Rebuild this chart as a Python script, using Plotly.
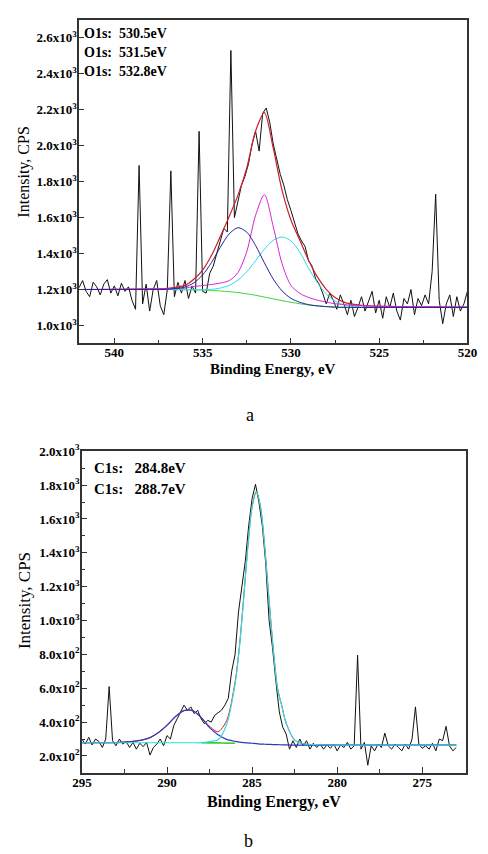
import plotly.graph_objects as go

SERIF = "Liberation Serif, Times New Roman, serif"
W, H = 488, 854

# ---------------- (a) O1s spectrum ----------------
O1S_START = 542.0
O1S_STEP = 0.2
O1S_COUNTS = [
    1210, 1250, 1190, 1160, 1240, 1215, 1170, 1230, 1255, 1180,
    1220, 1165, 1235, 1190, 1215, 1140, 1090, 1890, 1120, 1230,
    1080, 1200, 1250, 1110, 1060, 1200, 1860, 1160, 1240, 1180,
    1250, 1150, 1220, 1180, 2080, 1190, 1180, 1290, 1330, 1400,
    1470, 1540, 1520, 2530, 1600, 1700, 1780, 1830, 1900, 2010,
    2080, 1970, 2180, 2210, 2130, 2010, 1930, 1840, 1780, 1700,
    1640, 1570, 1510, 1470, 1440, 1360, 1330, 1260, 1230, 1180,
    1120, 1180, 1140, 1090, 1170, 1120, 1060, 1140, 1050, 1100,
    1160, 1080, 1130, 1190, 1070, 1140, 1040, 1160, 1100, 1180,
    1080, 1030, 1150, 1120, 1200, 1060, 1150, 1110, 1170, 1120,
    1300, 1730, 1140, 1010, 1120, 1170, 1050, 1160, 1080, 1120,
    1190,
]
O1S_FIT_E = [542, 540, 538, 537, 536, 535.5, 535, 534.5, 534, 533.5, 533, 532.5,
             532, 531.5, 531, 530.5, 530, 529.5, 529, 528.5, 528, 527.5, 527,
             526, 524, 522, 520]
O1S_BACKGROUND = [1200, 1200, 1200, 1200, 1199, 1198, 1197, 1195, 1192, 1188, 1183, 1176,
                  1168, 1158, 1148, 1138, 1129, 1121, 1114, 1109, 1105, 1102, 1101,
                  1100, 1100, 1100, 1100]
O1S_PEAK_5328 = [1200, 1200, 1200, 1201, 1214, 1237, 1281, 1350, 1435, 1509, 1544, 1519,
                 1445, 1348, 1258, 1192, 1151, 1129, 1116, 1109, 1105, 1102, 1101,
                 1100, 1100, 1100, 1100]
O1S_PEAK_5315 = [1200, 1201, 1203, 1205, 1208, 1217, 1222, 1228, 1236, 1249, 1294, 1411,
                 1613, 1728, 1550, 1343, 1223, 1179, 1156, 1141, 1130, 1121, 1116,
                 1110, 1105, 1103, 1102]
O1S_PEAK_5305 = [1200, 1200, 1200, 1200, 1199, 1199, 1199, 1201, 1208, 1223, 1253, 1299,
                 1360, 1424, 1474, 1492, 1471, 1409, 1319, 1238, 1176, 1136, 1115,
                 1102, 1100, 1100, 1100]
O1S_ENVELOPE = [1200, 1201, 1203, 1206, 1223, 1257, 1308, 1389, 1495, 1605, 1725, 1877,
                2082, 2184, 1986, 1751, 1587, 1475, 1363, 1270, 1201, 1155, 1130,
                1112, 1105, 1103, 1102]
O1S_LABELS = ["O1s:\u00a0\u00a0530.5eV", "O1s:\u00a0\u00a0531.5eV", "O1s:\u00a0\u00a0532.8eV"]
O1S_XTICKS = [540, 535, 530, 525, 520]
O1S_XMINOR = [537.5, 532.5, 527.5, 522.5]
O1S_YTICKS = [1000, 1200, 1400, 1600, 1800, 2000, 2200, 2400, 2600]
O1S_YTEXT = ["1.0", "1.2", "1.4", "1.6", "1.8", "2.0", "2.2", "2.4", "2.6"]

# ---------------- (b) C1s spectrum ----------------
C1S_START = 295.0
C1S_STEP = 0.2
C1S_COUNTS = [
    300, 270, 310, 265, 300, 285, 250, 300, 610, 290,
    260, 300, 270, 285, 250, 280, 240, 275, 255, 280,
    205, 250, 270, 300, 260, 320, 300, 380, 420, 460,
    500, 470, 490, 450, 470, 420, 390, 410, 400, 440,
    455, 470, 500, 540, 700, 800, 1050, 1190, 1350, 1560,
    1720, 1805, 1700, 1560, 1340, 1000, 840, 640, 460, 370,
    330, 240, 290, 250, 300, 260, 290, 240, 275, 250,
    270, 240, 265, 245, 270, 230, 265, 250, 280, 240,
    260, 795, 240, 280, 145, 260, 230, 270, 250, 335,
    260, 240, 270, 250, 230, 270, 240, 300, 490, 270,
    245, 260, 240, 275, 230, 300, 290, 375, 260, 230,
    250,
]
C1S_FIT_E = [295, 294, 293, 292, 291.5, 291, 290.5, 290, 289.5, 289, 288.5, 288,
             287.5, 287, 286.5, 286, 285.75, 285.5, 285.25, 285, 284.75, 284.5,
             284.25, 284, 283.75, 283.5, 283.25, 283, 282.5, 282, 281, 280, 278,
             276, 274, 273]
C1S_BACKGROUND = [278, 278, 278, 278, 278, 278, 278, 278, 278, 278, 278, 278,
                  277, 277, 276, 275, 274, 273, 272, 271, 270, 268,
                  267, 266, 265, 265, 264, 264, 264, 264, 264, 264, 264,
                  264, 264, 264]
C1S_PEAK_2887 = [278, 278, 279, 286, 293, 308, 338, 381, 433, 468, 468, 428,
                 367, 325, 298, 286, 282, 279, 277, 275, 273, 270,
                 269, 268, 267, 267, 265, 265, 264, 264, 264, 264, 264,
                 264, 264, 264]
C1S_PEAK_2848 = [278, 278, 278, 278, 278, 278, 278, 278, 278, 278, 278, 278,
                 285, 295, 386, 625, 834, 1122, 1432, 1670, 1760, 1667,
                 1427, 1115, 825, 595, 494, 394, 294, 272, 266, 264, 264,
                 264, 264, 264]
C1S_ENVELOPE = [278, 278, 279, 286, 293, 308, 338, 381, 433, 468, 468, 428,
                375, 343, 408, 636, 842, 1128, 1437, 1674, 1763, 1669,
                1429, 1117, 827, 597, 495, 395, 294, 272, 266, 264, 264,
                264, 264, 264]
C1S_LABELS = ["C1s:\u00a0\u00a0\u00a0284.8eV", "C1s:\u00a0\u00a0\u00a0288.7eV"]
C1S_XTICKS = [295, 290, 285, 280, 275]
C1S_XMINOR = [292.5, 287.5, 282.5, 277.5]
C1S_YTICKS = [200, 400, 600, 800, 1000, 1200, 1400, 1600, 1800, 2000]
C1S_YTEXT = ["2.0", "4.0", "6.0", "8.0", "1.0", "1.2", "1.4", "1.6", "1.8", "2.0"]
C1S_YEXP = ["2", "2", "2", "2", "3", "3", "3", "3", "3", "3"]
C1S_YMINOR = [300, 500, 700, 900, 1100, 1300, 1500, 1700, 1900]

COL_DATA = "#111111"
COL_RED = "#cc1f2a"
COL_BLUE = "#23239e"
COL_MAG = "#d523d5"
COL_CYAN = "#2fdbe2"
COL_GREEN = "#36d236"

o1s_E = [round(O1S_START - O1S_STEP * i, 2) for i in range(len(O1S_COUNTS))]
c1s_E = [round(C1S_START - C1S_STEP * i, 2) for i in range(len(C1S_COUNTS))]

fig = go.Figure()


def line(x, y, color, xa, ya, width=1.0, spline=True):
    fig.add_trace(go.Scatter(
        x=x, y=y, mode="lines", xaxis=xa, yaxis=ya, showlegend=False,
        hoverinfo="skip",
        line=dict(color=color, width=width,
                  shape="spline" if spline else "linear", smoothing=0.8)))


# (a)
line(o1s_E, O1S_COUNTS, COL_DATA, "x", "y", 1.0, False)
line(O1S_FIT_E, O1S_BACKGROUND, COL_GREEN, "x", "y")
line(O1S_FIT_E, O1S_ENVELOPE, COL_RED, "x", "y", 1.2)
line(O1S_FIT_E, O1S_PEAK_5305, COL_CYAN, "x", "y")
line(O1S_FIT_E, O1S_PEAK_5315, COL_MAG, "x", "y")
line(O1S_FIT_E, O1S_PEAK_5328, COL_BLUE, "x", "y")

# (b)
line(c1s_E, C1S_COUNTS, COL_DATA, "x2", "y2", 1.0, False)
g_e = [e for e in C1S_FIT_E if 286 <= e <= 288]
g_v = [v for e, v in zip(C1S_FIT_E, C1S_BACKGROUND) if 286 <= e <= 288]
line(g_e, g_v, COL_GREEN, "x2", "y2", 1.6)
line(C1S_FIT_E, C1S_ENVELOPE, COL_RED, "x2", "y2")
line(C1S_FIT_E, C1S_PEAK_2887, "#3535b5", "x2", "y2", 1.2)
line(C1S_FIT_E, C1S_PEAK_2848, COL_CYAN, "x2", "y2", 1.2)


def xdom(l, r):
    return [l / W, r / W]


def ydom(t, b):
    return [1 - b / H, 1 - t / H]


tickfont = dict(family=SERIF, size=13, color="black", weight="bold")
ytickfont = dict(family=SERIF, size=13, color="black", weight="bold")
axis_common = dict(showline=True, mirror=True, linecolor="#333333", linewidth=1.5,
                   ticks="inside", tickcolor="#333333", tickwidth=1.2,
                   showgrid=False, zeroline=False, fixedrange=True)

fig.update_layout(
    width=W, height=H, margin=dict(l=0, r=0, t=0, b=0),
    paper_bgcolor="white", plot_bgcolor="white",
    xaxis=dict(domain=xdom(72, 477), range=[542, 520], anchor="y",
               tickvals=O1S_XTICKS, ticktext=[str(v) for v in O1S_XTICKS],
               ticklen=6, tickfont=tickfont, ticklabelstandoff=-4,
               minor=dict(tickvals=O1S_XMINOR, ticks="inside", ticklen=4,
                          tickcolor="#333333"),
               **axis_common),
    yaxis=dict(domain=ydom(11, 338), range=[900, 2700], anchor="x",
               tickvals=O1S_YTICKS,
               ticktext=[f"{t}x10<sup>3</sup>" for t in O1S_YTEXT],
               ticklen=5, tickfont=ytickfont, ticklabelstandoff=-2,
               **axis_common),
    xaxis2=dict(domain=xdom(75, 476), range=[295, 272.4], anchor="y2",
                tickvals=C1S_XTICKS, ticktext=[str(v) for v in C1S_XTICKS],
                ticklen=6, tickfont=tickfont, ticklabelstandoff=-3,
                minor=dict(tickvals=C1S_XMINOR, ticks="inside", ticklen=4,
                           tickcolor="#333333"),
                **axis_common),
    yaxis2=dict(domain=ydom(447, 772), range=[100, 2000], anchor="x2",
                tickvals=C1S_YTICKS,
                ticktext=[f"{t}x10<sup>{e}</sup>" for t, e in zip(C1S_YTEXT, C1S_YEXP)],
                ticklen=5, tickfont=ytickfont, ticklabelstandoff=-2,
                minor=dict(tickvals=C1S_YMINOR, ticks="inside", ticklen=3,
                           tickcolor="#333333"),
                **axis_common),
)


def ann(text, px, py, size, bold=False, angle=0, xanchor="center"):
    fig.add_annotation(
        text=text, x=px / W, y=1 - py / H, xref="paper", yref="paper",
        showarrow=False, xanchor=xanchor, yanchor="middle", textangle=angle,
        font=dict(family=SERIF, size=size, color="black",
                  weight="bold" if bold else "normal"))


# axis titles
ann("Intensity, CPS", 15, 165, 16, angle=-90)
ann("Binding Energy, eV", 274, 364, 15, bold=True)
ann("Intensity, CPS", 15, 598, 17, angle=-90)
ann("Binding Energy, eV", 275, 801, 16, bold=True)

# peak labels
for i, t in enumerate(O1S_LABELS):
    ann(t, 75, 25 + 19 * i, 14, bold=True, xanchor="left")
for i, t in enumerate(C1S_LABELS):
    ann(t, 85, 464 + 21 * i, 15, bold=True, xanchor="left")

# panel captions
ann("a", 250, 410, 18)
ann("b", 249, 841, 18)

fig.write_html("out.html")
